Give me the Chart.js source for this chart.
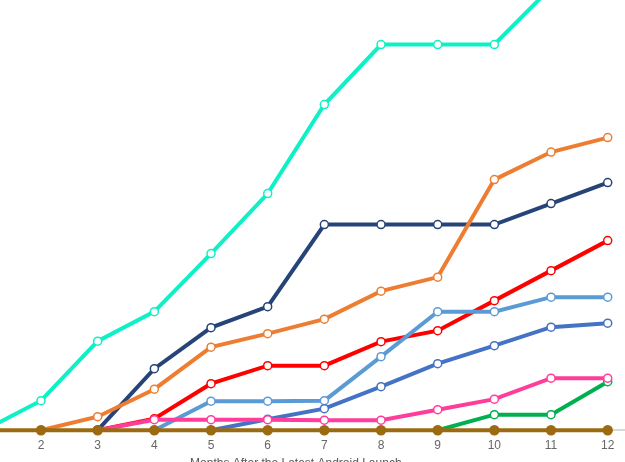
<!DOCTYPE html>
<html>
<head>
<meta charset="utf-8">
<script src="https://cdn.jsdelivr.net/npm/chart.js@4"></script>
<style>
  html, body { margin: 0; padding: 0; overflow: hidden; background: #fff; }
  #wrap { width: 625px; height: 475px; }
</style>
</head>
<body>
<div id="wrap"><canvas id="launchChart"></canvas></div>
<script>
// months after launch (1 sits just off the left edge)
var months = [1, 2, 3, 4, 5, 6, 7, 8, 9, 10, 11, 12];
var tickMonths = [2, 3, 4, 5, 6, 7, 8, 9, 10, 11, 12];

var cyanVals      = [0, 5.9, 17.8, 23.7, 35.3, 47.3, 65.1, 77.1, 77.1, 77.1, 88.5, 93];
var orangeVals    = [null, 0, 2.7, 8.2, 16.6, 19.3, 22.2, 27.8, 30.6, 50.1, 55.6, 58.5];
var navyVals      = [null, null, 0, 12.3, 20.5, 24.7, 41.1, 41.1, 41.1, 41.1, 45.3, 49.5];
var redVals       = [null, null, 0, 2.3, 9.3, 12.9, 12.9, 17.7, 19.9, 25.9, 31.9, 37.9];
var lightBlueVals = [null, null, null, 0, 5.8, 5.8, 5.9, 14.7, 23.7, 23.7, 26.6, 26.6];
var blueVals      = [null, null, null, null, 0, 2.2, 4.3, 8.7, 13.3, 16.9, 20.6, 21.4];
var pinkVals      = [null, null, 0, 2.1, 2.1, 2.1, 2, 2, 4.1, 6.2, 10.4, 10.4];
var greenVals     = [null, null, null, null, null, null, null, null, 0, 3.1, 3.1, 9.7];
var brownVals     = [0, 0, 0, 0, 0, 0, 0, 0, 0, 0, 0, 0];

function series(values, color) {
    return {
        data: values,
        borderColor: color,
        borderWidth: 4,
        pointRadius: 4,
        pointBorderWidth: 1.5,
        pointBackgroundColor: '#ffffff',
        pointBorderColor: color,
        tension: 0,
        clip: false
    };
}

var brown = series(brownVals, '#9c6a10');
brown.pointBackgroundColor = '#9c6a10';
brown.pointRadius = 4.5;

// first dataset is drawn on top
var datasets = [
    brown,
    series(pinkVals, '#ff3d9a'),
    series(greenVals, '#00b050'),
    series(blueVals, '#4472c4'),
    series(lightBlueVals, '#5b9bd5'),
    series(redVals, '#ff0000'),
    series(orangeVals, '#ed7d31'),
    series(navyVals, '#264478'),
    series(cyanVals, '#0ef0c6')
];

var ctx = document.getElementById('launchChart').getContext('2d');

var myChart = new Chart(ctx, {
    type: 'line',
    data: {
        labels: months,
        datasets: datasets
    },
    options: {
        responsive: true,
        maintainAspectRatio: false,
        animation: false,
        layout: { padding: 0, autoPadding: false },
        plugins: {
            legend: { display: false },
            tooltip: { enabled: false }
        },
        scales: {
            x: {
                type: 'linear',
                min: 1.2765,
                max: 12.305,
                afterBuildTicks: function (scale) {
                    scale.ticks = tickMonths.map(function (v) { return { value: v }; });
                },
                // no edge padding for labels, the plot runs to both sides
                afterFit: function (scale) {
                    scale.paddingLeft = 0;
                    scale.paddingRight = 0;
                },
                grid: { display: false, drawTicks: false },
                border: { display: true, color: '#d9d9d9', width: 2 },
                ticks: {
                    padding: 8,
                    color: '#666666',
                    font: { family: 'Liberation Sans', size: 12 }
                },
                title: {
                    display: true,
                    text: 'Months After the Latest Android Launch' + '\u00a0'.repeat(10),
                    color: '#595959',
                    font: { family: 'Liberation Sans', size: 12 },
                    padding: { top: -4, bottom: 4 }
                }
            },
            y: {
                display: false,
                min: 0,
                max: 86
            }
        }
    }
});
</script>
</body>
</html>
